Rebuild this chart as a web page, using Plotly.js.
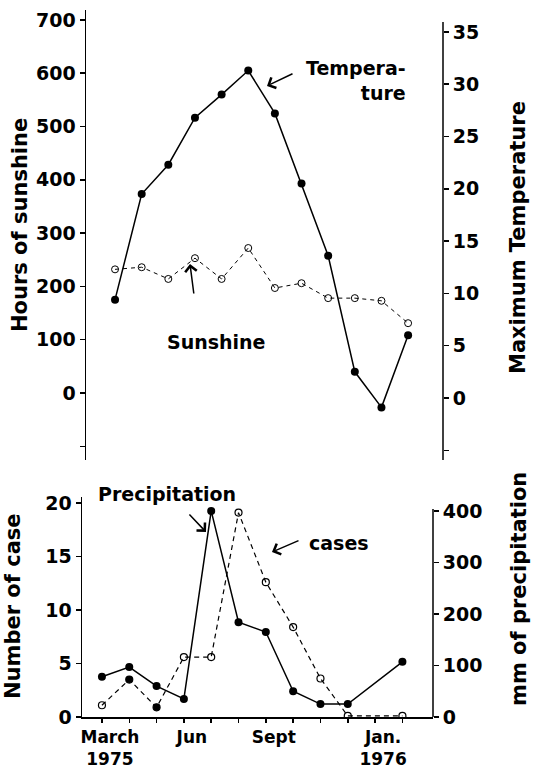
<!DOCTYPE html>
<html>
<head>
<meta charset="utf-8">
<script src="https://cdn.plot.ly/plotly-3.0.1.min.js"></script>
<style>html,body{margin:0;padding:0;background:#fff;}#chart{width:535px;height:778px;}</style>
</head>
<body>
<div id="chart"></div>
<script>
// ---- data ----
const months = ['Mar','Apr','May','Jun','Jul','Aug','Sep','Oct','Nov','Dec','Jan','Feb'];
const temperature = [9.4, 19.5, 22.3, 26.8, 29.0, 31.3, 27.2, 20.5, 13.6, 2.5, -0.9, 6.0];
const sunshine = [232, 236, 214, 253, 214, 272, 197, 206, 178, 178, 173, 131];
const precipitation = [78, 97, 60, 35, 400, 184, 165, 50, 25, 25, null, 107];
const cases = [1.1, 3.5, 0.9, 5.6, 5.6, 19.1, 12.6, 8.4, 3.6, 0.1, null, 0.1];
const caseSymbols = ['circle-open','circle','circle','circle-open','circle-open','circle-open','circle-open','circle-open','circle-open','circle-open','circle-open','circle-open'];
const bottomTickText = ['March<br>1975','','','Jun','','','Sept','','','','Jan.<br>1976',''];
const hoursTicks = [-100, 0, 100, 200, 300, 400, 500, 600, 700];
const hoursTickText = ['', '0', '100', '200', '300', '400', '500', '600', '700'];
const tempTicks = [-5, 0, 5, 10, 15, 20, 25, 30, 35];
const tempTickText = ['', '0', '5', '10', '15', '20', '25', '30', '35'];
const caseTicks = [0, 5, 10, 15, 20];
const precipTicks = [0, 100, 200, 300, 400];

// ---- layout helpers ----
const W = 535, H = 778;
const px = v => v / W;
const py = v => 1 - v / H;
const FONT = 'DejaVu Sans';
const tickFont = {family: FONT, size: 19, color: '#000', weight: 'bold'};
const labFont = {family: FONT, size: 19, color: '#000', weight: 'bold'};
const titleFont = {family: FONT, size: 21, color: '#000', weight: 'bold'};

const traces = [
  {x: months, y: temperature, xaxis: 'x', yaxis: 'y2', mode: 'lines+markers',
   line: {color: '#000', width: 1.5}, marker: {color: '#000', size: 8, symbol: 'circle'}, name: 'Temperature'},
  {x: months, y: sunshine, xaxis: 'x', yaxis: 'y', mode: 'lines+markers',
   line: {color: '#000', width: 1, dash: '4px,4px'}, marker: {color: '#000', size: 7, symbol: 'circle-open', line: {width: 1}}, name: 'Sunshine'},
  {x: months, y: precipitation, xaxis: 'x2', yaxis: 'y4', mode: 'lines+markers', connectgaps: true,
   line: {color: '#000', width: 1.5}, marker: {color: '#000', size: 8, symbol: 'circle'}, name: 'Precipitation'},
  {x: months, y: cases, xaxis: 'x2', yaxis: 'y3', mode: 'lines+markers', connectgaps: true,
   line: {color: '#000', width: 1.2, dash: '5px,4px'}, marker: {color: '#000', size: 7, symbol: caseSymbols, line: {width: 1.2, color: '#000'}}, name: 'cases'}
];

const yBase = {showgrid: false, zeroline: false, showline: true, linecolor: '#000', linewidth: 1.5,
  ticks: 'outside', ticklen: 5, tickwidth: 1.5, tickcolor: '#000', tickfont: tickFont, tickmode: 'array'};

function label(text, x, y, extra) {
  return Object.assign({text: text, x: px(x), y: py(y), xref: 'paper', yref: 'paper',
    xanchor: 'center', yanchor: 'middle', showarrow: false, font: labFont}, extra || {});
}
function arrow(x, y, ax, ay) {
  return {text: '', x: px(x), y: py(y), xref: 'paper', yref: 'paper', xanchor: 'center', yanchor: 'middle',
    showarrow: true, ax: ax, ay: ay, arrowhead: 4, arrowsize: 1.5, arrowwidth: 1.5, arrowcolor: '#000'};
}
function vline(x, y0, y1) {
  return {type: 'line', xref: 'paper', yref: 'paper', x0: px(x), x1: px(x), y0: py(y0), y1: py(y1),
    line: {color: '#000', width: 1.5}};
}

const layout = {
  width: W, height: H, margin: {l: 0, r: 0, t: 0, b: 0},
  paper_bgcolor: '#fff', plot_bgcolor: 'rgba(0,0,0,0)', showlegend: false,
  xaxis: {domain: [px(86), px(443)], type: 'category', categoryorder: 'array', categoryarray: months,
    range: [-1.09, 12.31], anchor: 'y', showline: false, showgrid: false, zeroline: false,
    showticklabels: false, ticks: ''},
  yaxis: Object.assign({}, yBase, {domain: [py(460), py(10)], anchor: 'x', side: 'left',
    range: [-125.7, 718.6], tickvals: hoursTicks, ticktext: hoursTickText}),
  yaxis2: Object.assign({}, yBase, {overlaying: 'y', anchor: 'x', side: 'right', showline: false,
    range: [-5.93, 37.09], tickvals: tempTicks, ticktext: tempTickText}),
  xaxis2: {domain: [px(82), px(433)], type: 'category', categoryorder: 'array', categoryarray: months,
    range: [-0.73, 12.12], anchor: 'y3', showline: true, linecolor: '#000', linewidth: 1.5,
    showgrid: false, zeroline: false, ticks: 'outside', ticklen: 4, tickwidth: 1.5, tickcolor: '#000',
    tickmode: 'array', tickvals: months, ticktext: bottomTickText, ticklabelshift: 8,
    tickfont: {family: FONT, size: 17, color: '#000', weight: 'bold'}},
  yaxis3: Object.assign({}, yBase, {domain: [py(717), py(497)], anchor: 'x2', side: 'left',
    range: [0, 20.56], tickvals: caseTicks}),
  yaxis4: Object.assign({}, yBase, {overlaying: 'y3', anchor: 'x2', side: 'right', showline: false,
    range: [0, 427], tickvals: precipTicks}),
  shapes: [
    vline(443, 22, 460),
    vline(433, 509, 717)
  ],
  annotations: [
    label('Hours of sunshine', 20, 225, {textangle: -90, font: titleFont}),
    label('Maximum Temperature', 518, 238, {textangle: -90, font: titleFont}),
    label('Number of case', 13, 606, {textangle: -90, font: titleFont}),
    label('mm of precipitation', 519, 589, {textangle: -90, font: titleFont}),
    label('Tempera-<br>ture', 408, 81, {xanchor: 'right', align: 'right'}),
    label('Sunshine', 216, 342),
    label('Precipitation', 167, 494),
    label('cases', 339, 543),
    arrow(267, 86, 27, -13),
    arrow(190, 264, 4, 31),
    arrow(206, 532, -18, -19),
    arrow(272, 552, 28, -12)
  ]
};

Plotly.newPlot('chart', traces, layout, {staticPlot: true, displayModeBar: false});
</script>
</body>
</html>
